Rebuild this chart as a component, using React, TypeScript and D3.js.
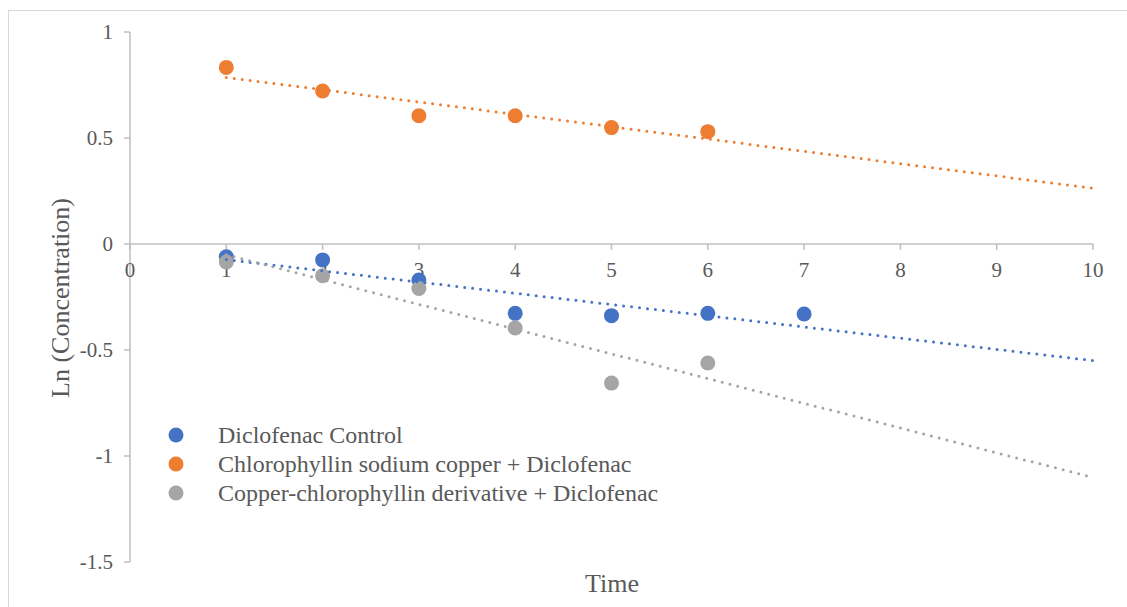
import React from "react";
import * as d3 from "d3";

const timePoints = [1, 2, 3, 4, 5, 6, 7];
const controlValues = [-0.06, -0.075, -0.17, -0.327, -0.338, -0.327, -0.33];
const sodiumCopperValues = [0.833, 0.722, 0.605, 0.605, 0.549, 0.53];
const derivativeValues = [-0.085, -0.15, -0.21, -0.396, -0.656, -0.561];

const seriesNames = [
  "Diclofenac Control",
  "Chlorophyllin sodium copper + Diclofenac",
  "Copper-chlorophyllin derivative + Diclofenac",
];
const seriesColors = ["#4472C4", "#ED7D31", "#A5A5A5"];

const xTicks = [0, 1, 2, 3, 4, 5, 6, 7, 8, 9, 10];
const yTicks = [1, 0.5, 0, -0.5, -1, -1.5];

const W = 1127;
const H = 607;
const FONT = "'Liberation Serif', 'Times New Roman', serif";
const TEXT = "#595959";
const AXIS = "#BFBFBF";

function linearFit(xs: number[], ys: number[]) {
  const mx = d3.mean(xs)!;
  const my = d3.mean(ys)!;
  let sxy = 0;
  let sxx = 0;
  xs.forEach((x, i) => {
    sxy += (x - mx) * (ys[i] - my);
    sxx += (x - mx) * (x - mx);
  });
  const slope = sxy / sxx;
  return { slope, intercept: my - slope * mx };
}

export default function App() {
  const x = d3.scaleLinear().domain([0, 10]).range([130, 1093]);
  const y = d3.scaleLinear().domain([-1.5, 1]).range([562, 32]);

  const series = [controlValues, sodiumCopperValues, derivativeValues].map((vals, i) => ({
    name: seriesNames[i],
    color: seriesColors[i],
    points: vals.map((v, j) => ({ t: timePoints[j], v })),
  }));

  const line = d3
    .line<{ t: number; v: number }>()
    .x((d) => x(d.t))
    .y((d) => y(d.v));

  return (
    <svg
      width={W}
      height={H}
      style={{ position: "absolute", left: 0, top: 0, fontFamily: FONT }}
    >
      <rect x={0} y={0} width={W} height={H} fill="#fff" />
      <rect x={8.5} y={10.5} width={W + 20} height={H + 20} fill="none" stroke="#D9D9D9" strokeWidth={1} />

      {/* y axis */}
      <line x1={x(0)} x2={x(0)} y1={y(1)} y2={y(-1.5)} stroke={AXIS} strokeWidth={1.5} />
      {yTicks.map((t) => (
        <g key={"y" + t}>
          <line x1={x(0) - 6} x2={x(0)} y1={y(t)} y2={y(t)} stroke={AXIS} strokeWidth={1.5} />
          <text
            x={x(0) - 17}
            y={y(t)}
            dy="0.35em"
            textAnchor="end"
            fontSize={21}
            fill={TEXT}
          >
            {t}
          </text>
        </g>
      ))}

      {/* x axis at zero */}
      <line x1={x(0)} x2={x(10)} y1={y(0)} y2={y(0)} stroke={AXIS} strokeWidth={1.5} />
      {xTicks.map((t) => (
        <g key={"x" + t}>
          <line x1={x(t)} x2={x(t)} y1={y(0)} y2={y(0) + 6} stroke={AXIS} strokeWidth={1.5} />
          <text x={x(t)} y={y(0) + 26} dy="0.35em" textAnchor="middle" fontSize={21} fill={TEXT}>
            {t}
          </text>
        </g>
      ))}

      {/* markers */}
      {series.map((s) => (
        <g key={s.name}>
          {s.points.map((p) => (
            <circle key={p.t} cx={x(p.t)} cy={y(p.v)} r={7.5} fill={s.color} />
          ))}
        </g>
      ))}

      {/* linear trend lines from the first point to x = 10 */}
      {series.map((s) => {
        const fit = linearFit(
          s.points.map((p) => p.t),
          s.points.map((p) => p.v)
        );
        const ends = [1, 10].map((t) => ({ t, v: fit.intercept + fit.slope * t }));
        return (
          <path
            key={"trend" + s.name}
            d={line(ends)!}
            fill="none"
            stroke={s.color}
            strokeWidth={3}
            strokeDasharray="0 8"
            strokeLinecap="round"
          />
        );
      })}

      {/* legend */}
      {series.map((s, i) => (
        <g key={"leg" + s.name} transform={`translate(176, ${435 + i * 29})`}>
          <circle cx={0} cy={0} r={7.5} fill={s.color} />
          <text x={42} y={0} dy="0.35em" fontSize={24} fill={TEXT}>
            {s.name}
          </text>
        </g>
      ))}

      {/* axis titles */}
      <text
        transform={`translate(60, ${(y(1) + y(-1.5)) / 2 + 1}) rotate(-90)`}
        textAnchor="middle"
        dy="0.35em"
        fontSize={26}
        fill={TEXT}
      >
        Ln (Concentration)
      </text>
      <text x={612} y={583} textAnchor="middle" dy="0.35em" fontSize={26} fill={TEXT}>
        Time
      </text>
    </svg>
  );
}
